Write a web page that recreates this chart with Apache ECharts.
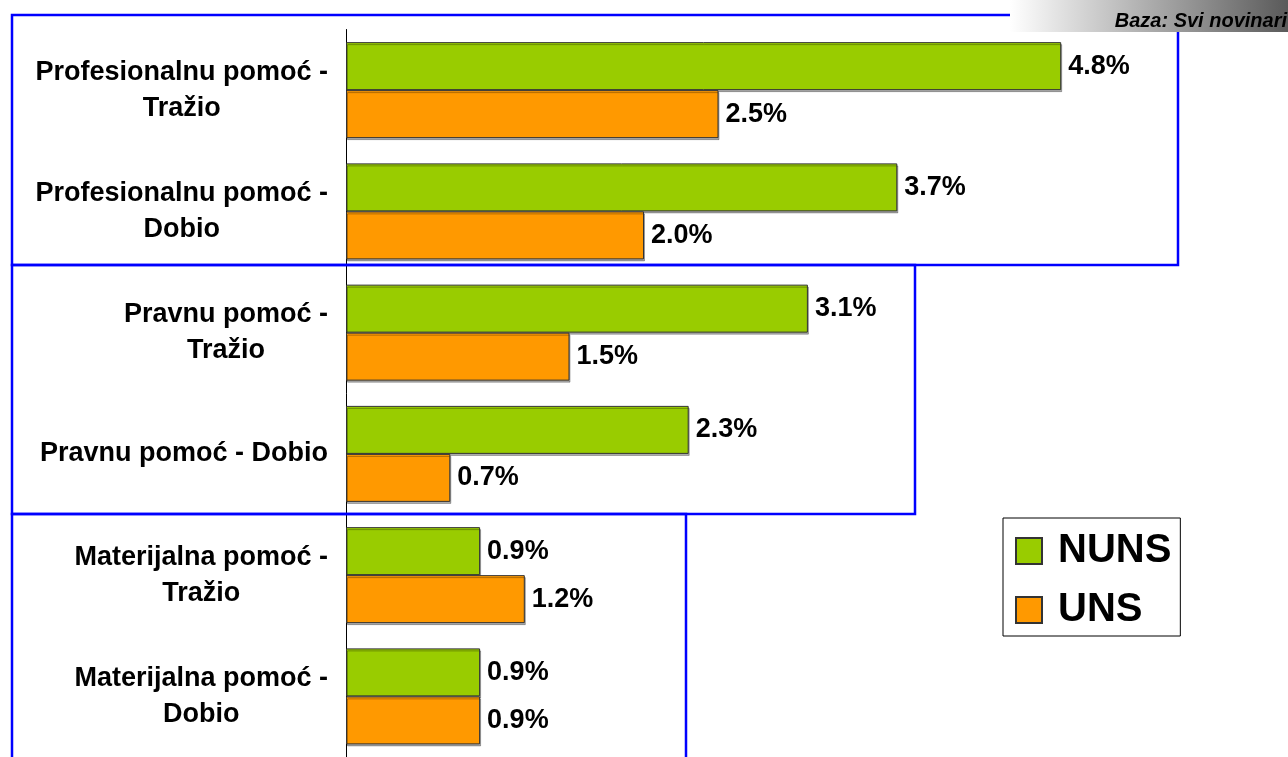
<!DOCTYPE html>
<html>
<head>
<meta charset="utf-8">
<script src="https://cdn.jsdelivr.net/npm/echarts@6/dist/echarts.min.js"></script>
<style>
html,body{margin:0;padding:0;background:#fff;}
#chart{width:1288px;height:757px;}
</style>
</head>
<body>
<div id="chart"></div>
<script>
const categories = [
  'Profesionalnu pomoć -\nTražio',
  'Profesionalnu pomoć -\nDobio',
  'Pravnu pomoć -\nTražio',
  'Pravnu pomoć - Dobio',
  'Materijalna pomoć -\nTražio',
  'Materijalna pomoć -\nDobio'
];
const seriesNames = ['NUNS', 'UNS'];
const nuns = [4.8, 3.7, 3.1, 2.3, 0.9, 0.9];
const uns = [2.5, 2.0, 1.5, 0.7, 1.2, 0.9];
const baseNote = 'Baza: Svi novinari';

const FONT = "'Liberation Sans', Arial, sans-serif";
const chart = echarts.init(document.getElementById('chart'), null, {renderer: 'canvas'});

function barSeries(name, data, color) {
  return {
    name: name,
    type: 'bar',
    data: data,
    barWidth: 48,
    barGap: '0%',
    itemStyle: {
      color: color,
      borderColor: '#333',
      borderWidth: 1,
      shadowColor: 'rgba(0,0,0,0.3)',
      shadowOffsetX: 1,
      shadowOffsetY: 2,
      shadowBlur: 0
    },
    label: {
      show: true,
      position: 'right',
      distance: 7,
      color: '#000',
      fontFamily: FONT,
      fontWeight: 'bold',
      fontSize: 27,
      formatter: p => p.value.toFixed(1) + '%'
    },
    emphasis: {disabled: true},
    z: 3
  };
}

const option = {
  backgroundColor: '#fff',
  animation: false,
  grid: {left: 346, right: 48, top: 29.5, bottom: 0, containLabel: false},
  xAxis: {
    type: 'value', min: 0, max: 6, show: false,
    splitLine: {show: false}
  },
  yAxis: {
    type: 'category',
    data: categories,
    inverse: true,
    axisLine: {show: true, lineStyle: {color: '#000', width: 1}},
    axisTick: {show: false},
    splitLine: {show: false},
    axisLabel: {
      margin: 18,
      formatter: v => v.split('\n').map(l => '{c|' + l + '}').join('\n'),
      rich: {
        c: {
          align: 'center',
          fontFamily: FONT,
          fontWeight: 'bold',
          fontSize: 27,
          lineHeight: 36,
          color: '#000'
        }
      }
    }
  },
  legend: {
    orient: 'vertical',
    left: 1003,
    top: 518,
    data: seriesNames,
    icon: 'rect',
    itemWidth: 26,
    itemHeight: 26,
    itemGap: 19,
    padding: [13, 9, 6, 12],
    borderColor: '#000',
    borderWidth: 1,
    selectedMode: false,
    textStyle: {
      fontFamily: FONT,
      fontWeight: 'bold',
      fontSize: 40,
      lineHeight: 40,
      color: '#000',
      padding: [0, 0, 0, 11]
    }
  },
  graphic: [
    {type: 'rect', shape: {x: 12, y: 15, width: 1166, height: 250}, style: {fill: 'none', stroke: '#0000ff', lineWidth: 2.5}, z: 1, silent: true},
    {type: 'rect', shape: {x: 12, y: 265, width: 903, height: 249}, style: {fill: 'none', stroke: '#0000ff', lineWidth: 2.5}, z: 1, silent: true},
    {type: 'rect', shape: {x: 12, y: 514, width: 674, height: 270}, style: {fill: 'none', stroke: '#0000ff', lineWidth: 2.5}, z: 1, silent: true},
    {type: 'rect', shape: {x: 1010, y: 0, width: 278, height: 32},
      style: {fill: new echarts.graphic.LinearGradient(0, 0, 1, 0, [
        {offset: 0, color: '#ffffff'}, {offset: 1, color: '#5a5a5a'}])},
      z: 5, silent: true},
    {type: 'text', right: 1, top: 11, z: 6, silent: true,
      style: {text: baseNote, fill: '#000', font: "italic bold 20px 'Liberation Sans', Arial, sans-serif"}}
  ],
  series: [
    barSeries(seriesNames[0], nuns, '#99cc00'),
    barSeries(seriesNames[1], uns, '#ff9900')
  ]
};
chart.setOption(option);
</script>
</body>
</html>
